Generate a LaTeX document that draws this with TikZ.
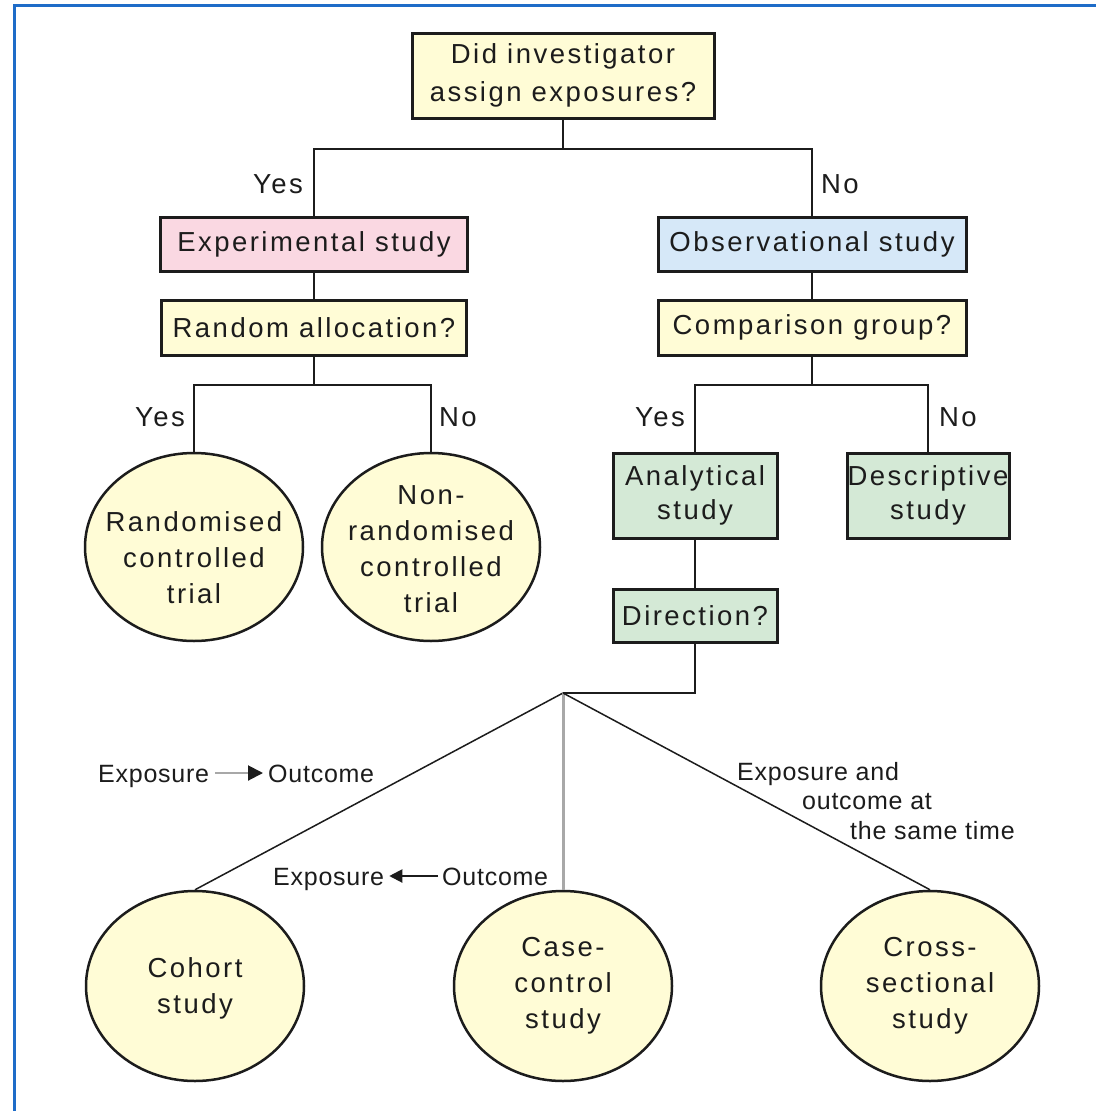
\documentclass[tikz,border=0pt]{standalone}
\usepackage{fontspec}
\setmainfont{Liberation Sans}
\newfontfamily\boxface[LetterSpace=9]{Liberation Sans}
\newfontfamily\noteface[LetterSpace=3]{Liberation Sans}
\usetikzlibrary{shapes.geometric,arrows.meta,calc}

\definecolor{cream}{HTML}{FFFCD6}
\definecolor{pinkfill}{HTML}{FAD8E2}
\definecolor{bluefill}{HTML}{D6E8F8}
\definecolor{greenfill}{HTML}{D4E9D6}
\definecolor{frameblue}{HTML}{1E6CC8}
\definecolor{ink}{HTML}{1C1C1C}
\definecolor{midgray}{HTML}{A8A8A8}

\newcommand\boxtext{\boxface\fontsize{27.5}{36}\selectfont}
\newcommand\notetext{\noteface\fontsize{25}{29.5}\selectfont}

\tikzset{
  qbox/.style={draw=ink, line width=3pt, inner sep=0pt, align=center,
    text=ink, font=\boxtext},
  oval/.style={ellipse, draw=ink, line width=2.5pt, fill=cream, inner sep=0pt,
    minimum width=218pt, minimum height=190pt},
  ovaltext/.style={inner sep=0pt, align=center, text=ink, font=\boxtext},
  link/.style={draw=ink, line width=2pt},
  branch/.style={draw=ink, line width=1.5pt},
  greybranch/.style={draw=midgray, line width=3pt},
  answer/.style={inner sep=0pt, text=ink, font=\boxtext},
  note/.style={inner sep=0pt, text=ink, font=\notetext},
}

\begin{document}
\begin{tikzpicture}[x=1pt,y=-1pt]
\useasboundingbox (0,0) rectangle (1096,1111);
\fill[white] (0,0) rectangle (1096,1111);
\draw[frameblue, line width=3pt] (14,1111) -- (14,5) -- (1096,5);

% question and study boxes
\node[qbox, fill=cream, minimum width=302pt, minimum height=85pt] (assign) at (563,75.5)
  {Did investigator\\[2pt]assign exposures?};
\node[qbox, fill=pinkfill, minimum width=307pt, minimum height=54pt] (exp) at (314,244)
  {Experimental study};
\node[qbox, fill=bluefill, minimum width=308pt, minimum height=54pt] (obs) at (812,244)
  {Observational study};
\node[qbox, fill=cream, minimum width=305pt, minimum height=55pt] (rand) at (314,327.5)
  {Random allocation?};
\node[qbox, fill=cream, minimum width=308pt, minimum height=55pt] (comp) at (812,327.5)
  {Comparison group?};
\node[qbox, fill=greenfill, minimum width=164pt, minimum height=85pt] (ana) at (695,495.5)
  {Analytical\\[-2pt]study};
\node[qbox, fill=greenfill, minimum width=162pt, minimum height=85pt] (desc) at (928,495.5)
  {Descriptive\\[-2pt]study};
\node[qbox, fill=greenfill, minimum width=164pt, minimum height=53pt] (dir) at (695,615.5)
  {Direction?};

% trial outcomes
\node[oval, minimum height=188pt] (rct) at (194,547) {};
\node[ovaltext, yshift=-11pt] at (rct) {Randomised\\controlled\\trial};
\node[oval, minimum height=188pt] (nonr) at (431,547) {};
\node[ovaltext, yshift=-2pt] at (nonr) {Non-\\randomised\\controlled\\trial};

% observational designs
\node[oval] (cohort) at (195,986) {};
\node[ovaltext, yshift=-2pt] at (cohort) {Cohort\\study};
\node[oval] (cc) at (563,986) {};
\node[ovaltext] at (cc) {Case-\\control\\study};
\node[oval] (cs) at (930,986) {};
\node[ovaltext] at (cs) {Cross-\\sectional\\study};

% junctions
\coordinate (j1) at (563,149);
\coordinate (j2) at (314,385);
\coordinate (j3) at (812,385);
\coordinate (apex) at (563,693);

\draw[link] (assign.south) -- (j1);
\draw[link] (exp.north) |- (j1) -| (obs.north);
\draw[link] (exp.south) -- (rand.north);
\draw[link] (obs.south) -- (comp.north);
\draw[link] (rand.south) -- (j2);
\draw[link] (rct.north) |- (j2) -| (nonr.north);
\draw[link] (comp.south) -- (j3);
\draw[link] (ana.north) |- (j3) -| (desc.north);
\draw[link] (ana.south) -- (dir.north);
\draw[link] (dir.south) |- (apex);
\draw[branch] (apex) -- (cohort.north);
\draw[greybranch] (apex) -- (cc.north);
\draw[branch] (apex) -- (cs.north);

% yes / no answers
\node[answer] at (278,184) {Yes};
\node[answer] at (840,184) {No};
\node[answer] at (160,417) {Yes};
\node[answer] at (458,417) {No};
\node[answer] at (660,417) {Yes};
\node[answer] at (958,417) {No};

% direction labels
\node[note, anchor=base west] (e1) at (98,782) {Exposure};
\node[note, anchor=base west] (o1) at (268,782) {Outcome};
\draw[midgray, line width=2pt, -{Triangle[length=15pt,width=15pt,color=ink]}]
  ($(e1.base east)+(6,-9)$) -- ($(o1.base west)+(-5,-9)$);

\node[note, anchor=base west] (e2) at (273,885) {Exposure};
\node[note, anchor=base west] (o2) at (442,885) {Outcome};
\draw[ink, line width=2pt, -{Triangle[length=13pt,width=13pt]}]
  ($(o2.base west)+(-4,-9)$) -- ($(e2.base east)+(5,-9)$);

\node[note, anchor=north west, align=left] (same) at (737,762)
  {Exposure and\\\hspace*{65pt}outcome at\\\hspace*{113pt}the same time};
\end{tikzpicture}
\end{document}
